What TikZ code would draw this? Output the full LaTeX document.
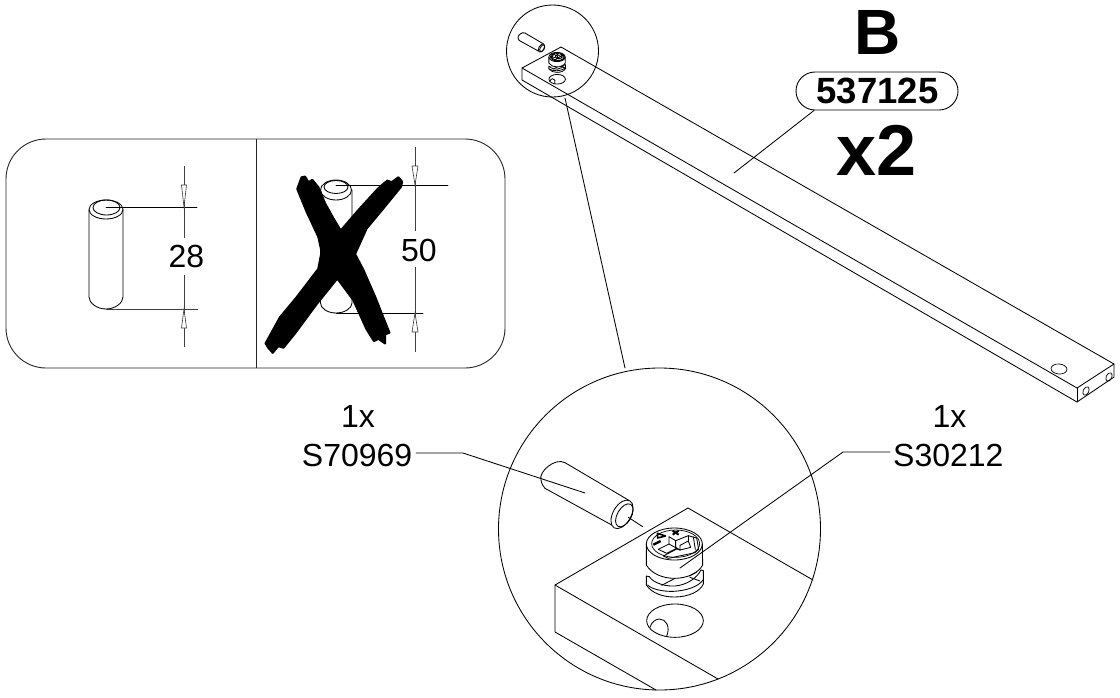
\documentclass[tikz,border=0pt]{standalone}
\usepackage{fontspec}
\setmainfont{Liberation Sans}
\tikzset{
  ln/.style={line width=0.85pt,black,line join=round,line cap=round},
  thin ln/.style={line width=0.7pt,black,line join=round,line cap=round},
  dim/.style={line width=0.85pt,black!75},
  tip/.style={line width=0.6pt,draw=black!80,fill=white,line join=miter},
  big/.style={inner sep=0pt,font=\fontsize{32}{32}\selectfont},
  bold/.style={inner sep=0pt,font=\bfseries},
  mark ln/.style={line width=1.6pt,black,line cap=butt,line join=round}
}
% drawn in the coordinates of the enlarged view, scaled by the enclosing scope
\newcommand{\camdraw}{%
  \draw[ln] (463,222) ellipse [x radius=84,y radius=48];
  \draw[thin ln] (467,221) ellipse [x radius=72,y radius=41];
  \draw[ln] (379,222) -- (379,285) .. controls (395,312) and (430,325) .. (463,325) .. controls (500,325) and (535,310) .. (548,285) -- (547,222);
  \draw[ln] (388,320) -- (379,318) -- (379,345) .. controls (395,370) and (430,381) .. (463,381) .. controls (505,381) and (540,365) .. (550,342) -- (550,302) -- (543,300);
  \draw[ln] (388,320) .. controls (400,340) and (440,350) .. (465,348) .. controls (500,345) and (530,325) .. (543,300);
  \draw[ln] (383,345) .. controls (395,358) and (430,365) .. (460,364) .. controls (500,362) and (535,350) .. (549,330);
  \draw[ln] (425,346) -- (465,325);
  \draw[ln] (510,322) -- (540,333);
  \draw[ln] (508,318) -- (530,306);
  \draw[mark ln] (412,190) -- (436,198) -- (413,204) -- cycle;
  \draw[mark ln,line width=2pt] (458,182) -- (476,194) (476,182) -- (458,194);
  \draw[mark ln,line width=2.4pt] (400,224) -- (422,213);
  \draw[ln] (415,238) -- (447,222) -- (447,200) -- (467,212) -- (505,197) -- (530,204) -- (536,238);
  \draw[ln] (415,238) -- (440,250) -- (470,235) -- (447,222);
  \draw[ln] (467,212) -- (467,232) -- (480,240);
  \draw[ln] (480,226) -- (505,213) -- (512,232) -- (480,240) -- cycle;
  \draw[ln] (505,197) -- (505,213);
  \draw[ln] (520,201) -- (526,238);
  \draw[ln] (430,258) -- (470,237) -- (480,240) (430,258) -- (445,265) -- (525,248) -- (536,238);
}
\newcommand{\holedraw}{%
  \draw[ln] (465,452) ellipse [x radius=85,y radius=50];
  \draw[ln] (390,472) .. controls (395,455) and (408,447) .. (418,447) .. controls (438,447) and (452,470) .. (440,498);
}
\newcommand{\pindraw}{%
  \draw[ln] (135,-22) -- (325,90);
  \draw[ln] (75,55) -- (275,165);
  \draw[ln] (135,-22) .. controls (105,-38) and (55,5) .. (63,30) .. controls (65,42) and (70,50) .. (75,55);
  \draw[ln,rotate around={60:(306,133)}] (306,133) ellipse [x radius=47,y radius=27];
  \draw[ln,rotate around={60:(313,136)}] (313,136) ellipse [x radius=38,y radius=21];
}
\begin{document}
\begin{tikzpicture}[x=1pt,y=-1pt]
\useasboundingbox (0,0) rectangle (1120,697);
% ---- left panel
\node[draw,line width=0.9pt,black!85,minimum width=499pt,minimum height=229pt,rounded corners=40pt,inner sep=0pt] (panel) at (255.5,253.5) {};
\coordinate (divT) at (256,139);
\coordinate (divB) at (256,368);
\draw[line width=0.9pt,black!85] (divT) -- (divB);
% short pin
\draw[ln] (89,210) -- (89,297) .. controls (89,303) and (97,309) .. (106,309) .. controls (115,309) and (123,303) .. (123,297) -- (123,210);
\draw[ln] (106,209.5) ellipse [x radius=17,y radius=9.5];
\draw[ln] (106.5,207.5) ellipse [x radius=13.5,y radius=7.5];
\coordinate (a1) at (106,207); \coordinate (a2) at (197,207);
\coordinate (b1) at (106,309); \coordinate (b2) at (198,309);
\draw[ln] (a1) -- (a2);
\draw[dim] (b1) -- (b2);
\node[big] (n28) at (186.5,256) {28};
\coordinate (c1) at (184,166); \coordinate (c2) at (184,238);
\coordinate (c3) at (184,275); \coordinate (c4) at (184,347);
\draw[dim] (c1) -- (c2);
\draw[dim] (c3) -- (c4);
\draw[tip] (184,207) -- (181.5,185) -- (186.5,185) -- cycle;
\draw[tip] (184,309) -- (181.5,328) -- (186.5,328) -- cycle;
% long pin
\draw[ln] (320.5,190) -- (320.5,303) .. controls (320.5,308) and (327,313) .. (336,313) .. controls (345,313) and (352,308) .. (352,303) -- (352,190);
\draw[ln] (336,190) ellipse [x radius=15.5,y radius=10];
\draw[ln] (336,187) ellipse [x radius=12,y radius=6.5];
\coordinate (d1) at (336,185); \coordinate (d2) at (448,185);
\coordinate (e1) at (336,313); \coordinate (e2) at (423,313);
\draw[ln] (d1) -- (d2);
\draw[ln] (e1) -- (e2);
\node[big] (n50) at (419,250) {50};
\coordinate (f1) at (415,147); \coordinate (f2) at (415,231);
\coordinate (f3) at (415,267); \coordinate (f4) at (415,352);
\draw[dim] (f1) -- (f2);
\draw[dim] (f3) -- (f4);
\draw[tip] (415,185) -- (412,166) -- (418,166) -- cycle;
\draw[tip] (415,313) -- (412,332) -- (418,332) -- cycle;
% the cross
\begin{scope}[shift={(250,140)},scale=0.33333]
\filldraw[black,line width=2.2pt,line join=round] (142,147) -- (150,125) -- (155,112) -- (165,110) -- (175,127) -- (187,120) -- (205,142)
  -- (225,190) -- (250,235) -- (272,272)
  -- (330,205) -- (385,145) -- (412,122)
  -- (425,127) -- (445,112) -- (456,125) -- (453,140)
  -- (400,205) -- (350,265) -- (315,342)
  -- (340,390) -- (375,470) -- (418,578)
  -- (405,583) -- (405,610) -- (385,596) -- (372,603)
  -- (350,568) -- (310,480) -- (262,415)
  -- (200,492) -- (135,580) -- (100,623)
  -- (85,618) -- (68,638) -- (55,623) -- (47,610)
  -- (90,532) -- (140,472) -- (205,387)
  -- (215,335) -- (205,290) -- (170,215) -- cycle;
\end{scope}
% ---- beam
\coordinate (tl) at (561,47);
\coordinate (tr) at (1114,364);
\coordinate (lf) at (522,68);
\coordinate (lb) at (522,80);
\coordinate (rf) at (1077,388);
\coordinate (rb) at (1077,402);
\coordinate (rr) at (1114,377);
\draw[ln] (lb) -- (lf) -- (tl) -- (tr) -- (rr) -- (rb) -- (lb);
\draw[ln] (lf) -- (rf) -- (tr);
\draw[ln] (rf) -- (rb);
\draw[thin ln,rotate around={-5:(1059,369)}] (1059,369) ellipse [x radius=8,y radius=5];
\draw[thin ln,rotate around={65:(1086,391)}] (1086,391) ellipse [x radius=4.5,y radius=2.8];
\draw[thin ln,rotate around={65:(1109,377)}] (1109,377) ellipse [x radius=4.5,y radius=2.8];
% small detail circle
\node[draw,circle,line width=0.85pt,minimum size=92pt,inner sep=0pt] (smallc) at (552.5,51) {};
\begin{scope}[shift={(557,57)},scale=0.0967,shift={(-463,-222)}]
  \tikzset{ln/.append style={line width=0.8pt},thin ln/.append style={line width=0.8pt},mark ln/.append style={line width=1pt}}
  \camdraw
  \holedraw
\end{scope}
\begin{scope}[shift={(541.5,48)},scale=0.0967,shift={(-306,-133)}]
  \pindraw
\end{scope}
% ---- big detail circle
\node[draw,circle,line width=0.85pt,minimum size=322pt,inner sep=0pt] (bigc) at (659.5,529) {};
\coordinate (lead1) at (565,98);
\coordinate (lead2) at (625,368);
\draw[ln] (lead1) -- (lead2);
\coordinate (bk) at (688,508);
\coordinate (bl) at (555,585);
\coordinate (bb) at (555,632);
\coordinate (be1) at (813,580);
\coordinate (be2) at (718,679);
\coordinate (be3) at (656,690);
\draw[ln] (be1) -- (bk) -- (bl) -- (bb) -- (be3);
\draw[ln] (bl) -- (be2);
\begin{scope}[shift={(520,470)},scale=0.33333]
  \camdraw
  \holedraw
  \pindraw
  \draw[ln] (325,142) -- (368,170);
\end{scope}
% ---- labels and leaders
\node[big] (oneL) at (358,416) {1x};
\node[big,anchor=east] (sL) at (412.5,455) {S70969};
\node[big] (oneR) at (949.5,416) {1x};
\node[big,anchor=west] (sR) at (893,455) {S30212};
\coordinate (kL) at (463,453); \coordinate (pL) at (585,493); \coordinate (sLa) at (416,453);
\coordinate (kR) at (843,452); \coordinate (pR) at (680,568); \coordinate (sRa) at (890,452);
\draw[ln] (sLa) -- (kL) -- (pL);
\draw[ln] (sRa) -- (kR) -- (pR);
% ---- title
\node[bold,font=\bfseries\fontsize{64}{64}\selectfont] (B) at (878,32) {B};
\node[draw,line width=0.9pt,minimum width=162pt,minimum height=38pt,rounded corners=19pt,inner sep=0pt] (oval) at (877,91) {};
\node[bold,font=\bfseries\fontsize{36.5}{36.5}\selectfont] (num) at (877.5,91) {537125};
\node[bold,font=\bfseries\fontsize{72}{72}\selectfont] (x2) at (877,150) {x2};
\coordinate (bp) at (734,173);
\coordinate (op) at (814,110.5);
\draw[ln] (bp) -- (op);
\end{tikzpicture}
\end{document}
